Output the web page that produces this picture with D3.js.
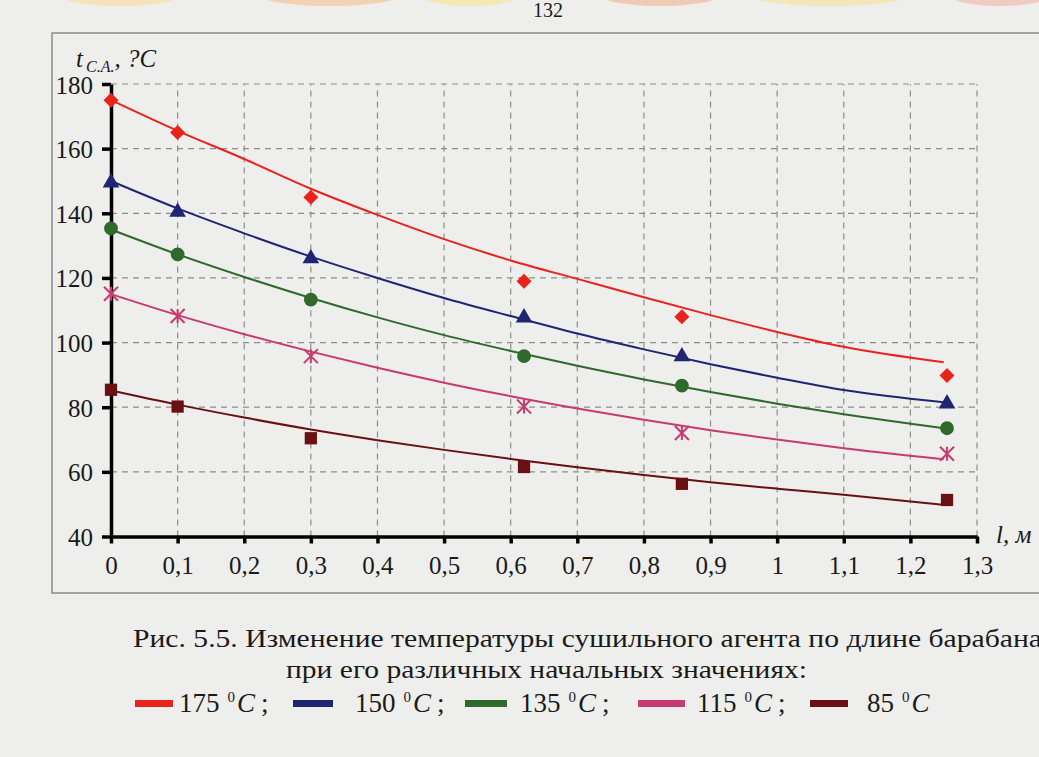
<!DOCTYPE html>
<html>
<head>
<meta charset="utf-8">
<script src="https://d3js.org/d3.v7.min.js"></script>
<style>
  body { margin: 0; background: #eeeeec; }
  text { font-family: "Liberation Serif", "Times New Roman", serif; fill: #1a1a1a; }
</style>
</head>
<body>
<svg width="1039" height="757"></svg>
<script>

// trend line samples
var lineX = [0, 0.1, 0.2, 0.3, 0.4, 0.5, 0.6, 0.7, 0.8, 0.9, 1.0, 1.1, 1.25];
var line175 = [175, 165.5, 156.8, 147.6, 139.5, 132, 125.4, 119.7, 114, 108.5, 103.3, 98.7, 93.9];
var line150 = [150, 141.5, 133.8, 126.6, 120, 113.8, 108.2, 102.8, 97.9, 93.3, 89.1, 85.3, 81.5];
var line135 = [135, 127.3, 120.3, 113.8, 107.8, 102.3, 97.4, 92.8, 88.6, 84.7, 81.1, 77.8, 73.5];
var line115 = [115, 108.5, 102.6, 97.2, 92.2, 87.6, 83.4, 79.6, 76.1, 72.9, 70, 67.3, 63.9];
var line85  = [85.2, 80.8, 76.8, 73.1, 69.8, 66.8, 64, 61.4, 59, 56.8, 54.8, 52.9, 49.8];

// measured points
var pointX = [0, 0.1, 0.3, 0.62, 0.857, 1.255];
var pts175 = [175, 165, 145, 119, 108, 89.8];
var pts150 = [149.8, 140.7, 126.3, 108, 96, 81.4];
var pts135 = [135.3, 127.3, 113.3, 95.8, 86.7, 73.5];
var pts115 = [115.1, 108.2, 95.8, 80.2, 72, 65.6];
var pts85  = [85.4, 80.2, 70.4, 61.5, 56.3, 51.3];

var seriesNames = ["175", "150", "135", "115", "85"];
var colors = ["#e8221c", "#1e2673", "#2f6a2c", "#c73a72", "#6a0f12"];
var markers = ["diamond", "triangle", "circle", "asterisk", "square"];
var lines = [line175, line150, line135, line115, line85];
var points = [pts175, pts150, pts135, pts115, pts85];

var xTicks = [0, 0.1, 0.2, 0.3, 0.4, 0.5, 0.6, 0.7, 0.8, 0.9, 1, 1.1, 1.2, 1.3];
var yTicks = [40, 60, 80, 100, 120, 140, 160, 180];

var svg = d3.select("svg");

// page number and faint header band of the scanned page
svg.append("text").attr("x", 548).attr("y", 17).attr("text-anchor", "middle")
  .style("font-size", "20px").text("132");
var band = svg.append("g");
[["#f7e0b0", 120, 60], ["#f3c9a6", 330, 70], ["#f6e6a8", 470, 50], ["#f1c1a8", 660, 60], ["#f5e3ac", 830, 80], ["#f0c2b8", 1000, 50]]
  .forEach(function(b) {
    band.append("ellipse").attr("cx", b[1]).attr("cy", -5).attr("rx", b[2]).attr("ry", 11)
      .attr("fill", b[0]).attr("opacity", 0.8);
  });

// chart frame
svg.append("path")
  .attr("d", "M1039,33 H52 V593 H1039")
  .attr("fill", "none").attr("stroke", "#8a8a8a").attr("stroke-width", 1.5);

var x = d3.scaleLinear().domain([0, 1.3]).range([111, 977]);
var y = d3.scaleLinear().domain([40, 180]).range([536.5, 84]);

var g = svg.append("g");

// grid
g.selectAll(".gx").data(xTicks.slice(1)).enter().append("line")
  .attr("x1", function(d) { return x(d); }).attr("x2", function(d) { return x(d); })
  .attr("y1", y(40)).attr("y2", y(180))
  .attr("stroke", "#8d8d8d").attr("stroke-width", 1.2).attr("stroke-dasharray", "6,5");
g.selectAll(".gy").data(yTicks.slice(1)).enter().append("line")
  .attr("x1", x(0)).attr("x2", x(1.3))
  .attr("y1", function(d) { return y(d); }).attr("y2", function(d) { return y(d); })
  .attr("stroke", "#8d8d8d").attr("stroke-width", 1.2).attr("stroke-dasharray", "6,5");

// axes
var fmt = function(d) { return String(d).replace(".", ","); };
var xAxis = g.append("g").attr("transform", "translate(0," + y(40) + ")")
  .call(d3.axisBottom(x).tickValues(xTicks).tickFormat(fmt).tickSizeInner(7).tickSizeOuter(0).tickPadding(13));
var yAxis = g.append("g").attr("transform", "translate(" + x(0) + ",0)")
  .call(d3.axisLeft(y).tickValues(yTicks).tickSizeInner(9).tickSizeOuter(0).tickPadding(9));
[xAxis, yAxis].forEach(function(a) {
  a.select(".domain").attr("stroke", "#000").attr("stroke-width", 3.5);
  a.selectAll(".tick line").attr("stroke", "#000").attr("stroke-width", 3.5);
  a.selectAll(".tick text").attr("fill", "#1a1a1a")
    .style("font-family", "'Liberation Serif', serif").style("font-size", "25px");
});
yAxis.selectAll(".tick text").attr("dy", "0.36em");

// axis titles
var yt = svg.append("text").attr("x", 76).attr("y", 67).style("font-size", "25px").style("font-style", "italic");
yt.append("tspan").text("t");
yt.append("tspan").attr("dx", 3).attr("dy", 5).style("font-size", "16px").text("C.A.");
yt.append("tspan").attr("dy", -5).text(", ?C");

svg.append("text").attr("x", 996).attr("y", 543).style("font-size", "25px").style("font-style", "italic").text("l, м");

// trend lines
var lineGen = d3.line().curve(d3.curveMonotoneX)
  .x(function(d) { return x(d[0]); }).y(function(d) { return y(d[1]); });

lines.forEach(function(vals, i) {
  g.append("path")
    .datum(lineX.map(function(v, j) { return [v, vals[j]]; }))
    .attr("fill", "none").attr("stroke", colors[i]).attr("stroke-width", 2)
    .attr("d", lineGen);
});

// markers
var symbolFor = {
  triangle: d3.symbol().type(d3.symbolTriangle).size(120),
  circle: d3.symbol().type(d3.symbolCircle).size(150),
  square: d3.symbol().type(d3.symbolSquare).size(150)
};

points.forEach(function(vals, i) {
  var mg = g.append("g");
  vals.forEach(function(v, j) {
    var cx = x(pointX[j]), cy = y(v);
    if (markers[i] === "asterisk") {
      var s = 7;
      mg.append("path")
        .attr("d", "M" + (cx - s) + "," + (cy - s) + "L" + (cx + s) + "," + (cy + s) +
                   "M" + (cx - s) + "," + (cy + s) + "L" + (cx + s) + "," + (cy - s) +
                   "M" + cx + "," + (cy - s) + "L" + cx + "," + (cy + s))
        .attr("stroke", colors[i]).attr("stroke-width", 2).attr("fill", "none");
    } else if (markers[i] === "diamond") {
      var r = 7.5;
      mg.append("path")
        .attr("d", "M" + cx + "," + (cy - r) + "L" + (cx + r) + "," + cy + "L" + cx + "," + (cy + r) +
                   "L" + (cx - r) + "," + cy + "Z")
        .attr("fill", colors[i]);
    } else {
      mg.append("path")
        .attr("transform", "translate(" + cx + "," + (cy + (markers[i] === "triangle" ? 1 : 0)) + ")")
        .attr("d", symbolFor[markers[i]]())
        .attr("fill", colors[i]);
    }
  });
});

// caption
svg.append("text").attr("x", 133).attr("y", 647).style("font-size", "26px")
  .attr("textLength", 909).attr("lengthAdjust", "spacingAndGlyphs")
  .text("Рис. 5.5. Изменение температуры сушильного агента по длине барабана");
svg.append("text").attr("x", 286).attr("y", 678).style("font-size", "26px")
  .attr("textLength", 521).attr("lengthAdjust", "spacingAndGlyphs")
  .text("при его различных начальных значениях:");

// legend
var legendX = [135, 293, 465, 638, 810];
var legendW = [38, 40, 42, 47, 38];
var legendTextX = [179, 355, 520, 697, 867];
seriesNames.forEach(function(name, i) {
  svg.append("rect").attr("x", legendX[i]).attr("y", 700).attr("width", legendW[i]).attr("height", 7)
    .attr("fill", colors[i]);
  var t = svg.append("text").attr("x", legendTextX[i]).attr("y", 712).style("font-size", "27px");
  t.append("tspan").text(name);
  t.append("tspan").attr("dx", 8).attr("dy", -10).style("font-size", "15px").text("0");
  t.append("tspan").attr("dx", 2).attr("dy", 10).style("font-style", "italic").text("C");
  if (i < seriesNames.length - 1) t.append("tspan").attr("dx", 6).text(";");
});

</script>
</body>
</html>
